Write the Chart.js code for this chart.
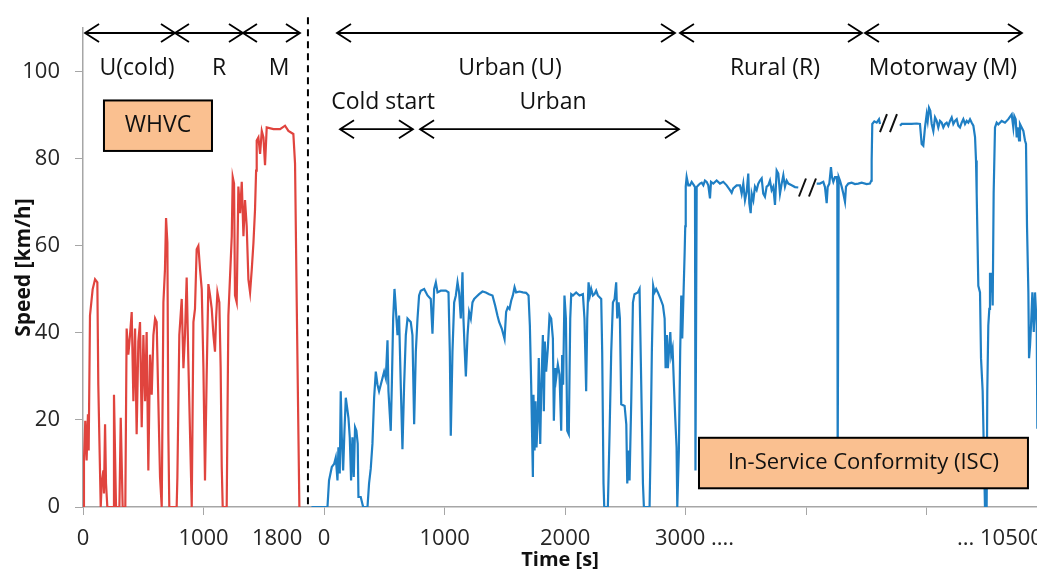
<!DOCTYPE html>
<html>
<head>
<meta charset="utf-8">
<script src="https://cdn.jsdelivr.net/npm/chart.js@4.4.1/dist/chart.umd.min.js"></script>
<style>
  html, body { margin: 0; padding: 0; background: #fff; overflow: hidden; }
  #wrap { width: 1037px; height: 572px; position: relative; }
</style>
</head>
<body>
<div id="wrap"><canvas id="speedChart"></canvas></div>
<script>
// WHVC cycle, time [s] and speed [km/h]
const whvcTime = [
  0, 8, 19, 30, 41, 47, 58, 80, 100, 119,
  127, 147, 155, 169, 174, 183, 191, 202, 252, 257,
  274, 302, 313, 329, 351, 362, 376, 390, 404, 418,
  432, 445, 459, 473, 487, 501, 515, 528, 542, 556,
  570, 584, 598, 611, 625, 639, 653, 667, 680, 689,
  700, 708, 716, 777, 783, 799, 819, 833, 846, 860,
  874, 888, 902, 916, 929, 943, 957, 971, 985, 999,
  1012, 1026, 1040, 1054, 1068, 1082, 1095, 1104, 1115, 1131,
  1142, 1151, 1159, 1192, 1206, 1220, 1234, 1242, 1253, 1261,
  1275, 1289, 1303, 1317, 1331, 1344, 1358, 1372, 1386, 1400,
  1414, 1427, 1436, 1441, 1455, 1469, 1483, 1497, 1510, 1524,
  1580, 1635, 1676, 1704, 1745, 1759, 1773, 1787, 1795
];
const whvcSpeed = [
  0, 10.7, 19.8, 10.7, 21.3, 13, 44, 50, 52.3, 51.6,
  28, 0, 5.4, 8.4, 3.1, 19, 5.4, 0, 0, 25.8,
  0, 0, 20.5, 0, 0, 41, 35, 39.5, 44.8, 24.3,
  41, 16.7, 38, 42.5, 18.3, 39.5, 24.3, 40.2, 8.4, 35,
  25.8, 39.5, 43.3, 42.5, 24.3, 6.9, 0, 47, 54.6, 66.4,
  60.7, 16.7, 0, 0, 6.9, 39.5, 47.8, 31.9, 39.5, 52.7,
  33.4, 16.7, 0, 42.5, 45.5, 59.2, 60, 54.6, 50, 31.9,
  6.1, 30.4, 51.2, 48.6, 45.5, 39.5, 35.7, 43.3, 49.3, 47,
  31.9, 9.2, 0, 0, 44, 53.1, 62.2, 75.8, 74.3, 48.6,
  47, 73.6, 67.5, 74.7, 62.2, 70.5, 64.5, 52.3, 49.3, 54.6,
  60.7, 68.3, 77.3, 84.2, 84.9, 81.1, 86.4, 84.9, 78.5, 87.2,
  86.8, 86.8, 87.6, 86.4, 85.7, 78.9, 47, 16.7, 0
];

// ISC trip, urban part (0 - 3000 s)
const urbanTime = [
  -105, 28, 41, 64, 83, 97, 111, 119, 130, 138,
  147, 158, 169, 180, 191, 202, 213, 224, 235, 246,
  257, 268, 279, 285, 304, 324, 360, 373, 387, 401,
  415, 429, 443, 456, 470, 484, 498, 512, 526, 534,
  545, 553, 562, 573, 584, 592, 600, 609, 622, 636,
  650, 664, 678, 692, 705, 719, 733, 747, 761, 775,
  788, 802, 830, 858, 885, 899, 913, 927, 941, 968,
  1010, 1032, 1043, 1051, 1065, 1079, 1093, 1107, 1120, 1134,
  1148, 1156, 1167, 1176, 1190, 1203, 1217, 1231, 1245, 1259,
  1286, 1314, 1342, 1369, 1397, 1419, 1438, 1452, 1474, 1497,
  1510, 1524, 1538, 1552, 1566, 1580, 1593, 1621, 1649, 1676,
  1696, 1707, 1718, 1726, 1732, 1737, 1746, 1754, 1762, 1773,
  1781, 1793, 1801, 1815, 1823, 1831, 1842, 1856, 1870, 1884,
  1898, 1906, 1917, 1925, 1939, 1953, 1967, 1975, 1983, 1994,
  2006, 2017, 2030, 2042, 2050, 2064, 2091, 2119, 2147, 2160,
  2174, 2183, 2194, 2205, 2216, 2230, 2243, 2257, 2271, 2299,
  2307, 2318, 2324, 2354, 2368, 2382, 2396, 2410, 2423, 2432,
  2443, 2454, 2465, 2493, 2507, 2515, 2526, 2534, 2548, 2562,
  2575, 2603, 2617, 2631, 2645, 2653, 2700, 2708, 2719, 2730,
  2741, 2755, 2769, 2791, 2811, 2825, 2833, 2844, 2852, 2861,
  2872, 2880, 2891, 2902, 2913, 2924, 2930, 2935, 2943, 2954,
  2963, 2971, 2982, 2991, 2996, 3000
];
const urbanSpeed = [
  0, 0, 6.1, 9.2, 9.9, 11.4, 6.1, 13.7, 7.7, 26.6,
  16, 8.4, 17.5, 25.1, 22.8, 20.5, 16, 6.1, 16, 6.9,
  18.3, 17.5, 14.5, 2.3, 2.3, 0, 0, 5.4, 8.8, 14.5,
  25.1, 31.1, 28.1, 26.6, 28.1, 29.6, 31.1, 29.6, 38.3, 26.6,
  21.3, 17.5, 28.1, 43.3, 50.1, 47, 43.3, 39.5, 44, 28.1,
  13.3, 28.1, 39.5, 43.3, 42.9, 42.5, 39.5, 19, 35.7, 43.3,
  48.6, 49.7, 50.1, 48.6, 47.8, 39.8, 50.1, 51.6, 49.3, 49.7,
  49.7, 49.3, 35.7, 16.4, 35.7, 47, 48.6, 51.6, 49.3, 43.3,
  53.9, 43.3, 35.7, 30, 39.5, 44.8, 43.3, 47, 47.8, 48.2,
  48.9, 49.5, 49.3, 48.9, 48.6, 46.3, 44, 42.5, 41, 38.6,
  44.8, 45.9, 45.5, 47.4, 48.6, 50.5, 49.3, 49.5, 49.3, 49.2,
  48.6, 41.7, 28.1, 16, 6.9, 25.8, 13, 24.3, 13.7, 20.5,
  34.2, 14.5, 26.6, 39.5, 22, 38, 31.1, 36.4, 44, 43.3,
  38.7, 19.8, 31.9, 29.6, 32.7, 30.4, 17.5, 34.9, 28.1, 48.6,
  43.3, 17.5, 16.7, 43.3, 48.9, 48.6, 49.3, 48.6, 48.9, 43.3,
  26.6, 43.3, 51.6, 48.6, 50.1, 48.6, 48.9, 49.7, 48.6, 47.8,
  35.7, 5.4, 0, 0, 16.7, 35.7, 47, 47.8, 51.6, 43.3,
  47, 43.3, 23.6, 23.2, 19, 5.4, 13, 6.1, 24.3, 47,
  48.9, 49.3, 50.1, 28.1, 5.4, 0, 0, 13, 35.7, 50.8,
  49.3, 50.1, 49.3, 47.8, 46.3, 43.3, 31.9, 39.5, 31.9, 35.7,
  40.2, 34.9, 36.4, 28.1, 20.5, 13.7, 0, 0, 13, 35.7,
  48.6, 38.7, 49.3, 58.4, 64.5, 73.6
];

// ISC trip, rural part (null = break "//")
const ruralTime = [
  3019, 3053, 3088, 3123, 3171, 3192, 3202, 3227, 3261, 3296,
  3331, 3365, 3399, 3434, 3468, 3503, 3524, 3572, 3641, 3710,
  3779, 3849, 3918, 3953, 3986, 4056, 4125, 4160, 4194, 4229,
  4264, 4297, 4318, 4347, 4368, 4402, 4436, 4471, 4505, 4540,
  4575, 4608, 4643, 4678, 4712, 4747, 4782, 4816, 4851, 4886,
  4920, 4955, 4990, 5024, 5058, 5093, 5128, 5197, 5266, 5334,
  5535, 5716, 5784, 5853, 5888, 5923, 5944, 5978, 6012, 6033,
  6061, 6095, 6131, 6144, 6151, 6172, 6199, 6234, 6268, 6303,
  6324, 6372, 6442, 6510, 6579, 6649, 6753, 6821, 6848
];
const ruralSpeed = [
  75.8, 73.9, 73.9, 74.7, 73.9, 73.5, 8.4, 73.5, 73.9, 74.3,
  74.5, 73.9, 75, 74.7, 73.9, 70.9, 74.7, 74.3, 75, 74.3,
  74.7, 73.9, 72.8, 72.2, 73.2, 73.9, 73.9, 72, 74.3, 70.5,
  72.4, 76.6, 69.8, 67.5, 72, 70.5, 73.6, 72.8, 74.3, 75,
  75.5, 72, 71.3, 73.6, 73.9, 75, 72.8, 73.6, 69.4, 77.3,
  76.6, 72, 74.3, 76.2, 73.6, 75, 74.3, 73.9, 73.5, 73.4,
  null, 74.3, 74.3, 74.7, 73.5, 69.8, 73.5, 74.3, 78.1, 75.8,
  74.7, 75.8, 75.8, 74.3, 10, 75.8, 75, 73.6, 72, 70.1,
  73.6, 74.3, 74.5, 74.2, 74.3, 74.5, 74.2, 74.3, 75
];

// ISC trip, motorway part
const motorwayTime = [
  6856, 6869, 6911, 6960, 7008, 7029, 7215, 7444, 7479, 7547,
  7616, 7686, 7790, 7858, 7893, 7927, 7962, 7997, 8018, 8045,
  8072, 8101, 8135, 8170, 8205, 8238, 8273, 8308, 8342, 8377,
  8412, 8446, 8481, 8516, 8550, 8585, 8620, 8653, 8688, 8723,
  8757, 8792, 8827, 8861, 8896, 8931, 8965, 9000, 9020, 9034,
  9068, 9103, 9124, 9158, 9192, 9206, 9241, 9254, 9275, 9296,
  9310, 9331, 9345, 9366, 9386, 9414, 9449, 9483, 9552, 9621,
  9690, 9760, 9794, 9815, 9843, 9864, 9884, 9912, 9932, 9967,
  10002, 10036, 10057, 10078, 10106, 10120, 10141, 10161, 10189, 10218,
  10244, 10279, 10292
];
const motorwaySpeed = [
  79.6, 88, 88.6, 88.3, 89.1, 88, null, 87.6, 88, 88,
  88, 88, 88.1, 88, 83.4, 83, 87.2, 90.2, 88.7, 91.7,
  91, 88, 86.4, 89.5, 88.7, 87.2, 88.7, 88.3, 87.2, 88,
  88.3, 87.6, 88.7, 89.5, 88, 88.7, 89.1, 87.6, 87.2, 88.3,
  89.1, 88, 88.7, 88.3, 89.1, 88.3, 87.6, 85, 79.6, 72,
  50.8, 49.3, 34.2, 26.6, 7.7, 0, 0, 26.6, 41.7, 45.5,
  53.8, 49.3, 53.8, 46.3, 72, 87.2, 88.3, 87.9, 88.7, 88.3,
  89.1, 90.2, 87.2, 89.8, 89.1, 84.9, 87.2, 84.2, 88, 87.2,
  86.4, 84.2, 83.4, 64.5, 49.3, 34.2, 37.2, 41.7, 49.3, 40.2,
  49.3, 41.7, 18
];

const xTickValues = [0, 1000, 2000, 3000, 4000, 5000, 6000, 7000];
const yTickValues = [0, 20, 40, 60, 80, 100];
const xTickLabels = ['0', '1000', '1800', '0', '1000', '2000', '3000 ....', '... 10500'];
const xTickLabelAt = [0, 1000, 1610, 2000, 3000, 4000, 4745, 7250];

// shared x axis: WHVC in s, then ISC shifted by 2000, compressed after 3000 s
function iscPos(t) {
  return t <= 3000 ? 2000 + t : 5000 + (t - 3000) * 0.4;
}

const iscTime = [...urbanTime, ...ruralTime, ...motorwayTime];
const iscSpeed = [...urbanSpeed, ...ruralSpeed, ...motorwaySpeed];

const FONT = '"Open Sans", "Noto Sans", sans-serif';
const AXIS_GREY = '#a6a6a6';

function arrow(ctx, x1, x2, yy) {
  const h = 14, w = 9;
  ctx.beginPath();
  ctx.moveTo(x1, yy); ctx.lineTo(x2, yy);
  ctx.moveTo(x1 + h, yy - w); ctx.lineTo(x1, yy); ctx.lineTo(x1 + h, yy + w);
  ctx.moveTo(x2 - h, yy - w); ctx.lineTo(x2, yy); ctx.lineTo(x2 - h, yy + w);
  ctx.stroke();
}

function box(ctx, x1, y1, x2, y2, text, size) {
  ctx.fillStyle = '#fac090';
  ctx.fillRect(x1, y1, x2 - x1, y2 - y1);
  ctx.lineWidth = 2;
  ctx.strokeStyle = '#000';
  ctx.strokeRect(x1, y1, x2 - x1, y2 - y1);
  ctx.fillStyle = '#111';
  ctx.font = size + 'px ' + FONT;
  ctx.textAlign = 'center';
  ctx.fillText(text, (x1 + x2) / 2, (y1 + y2) / 2);
}

const annotate = {
  id: 'annotate',
  afterDatasetsDraw(chart) {
    const { ctx, scales: { x, y } } = chart;
    const px = v => x.getPixelForValue(v);
    const py = v => y.getPixelForValue(v);
    ctx.save();
    ctx.textBaseline = 'middle';

    // x tick labels
    ctx.font = '22px ' + FONT;
    ctx.fillStyle = '#262626';
    xTickLabels.forEach((lab, i) => {
      ctx.textAlign = lab.indexOf('..') >= 0 ? 'left' : 'center';
      ctx.fillText(lab, px(xTickLabelAt[i]), 539);
    });

    // separator
    ctx.strokeStyle = '#000';
    ctx.lineWidth = 2;
    ctx.setLineDash([7, 5]);
    ctx.beginPath();
    ctx.moveTo(px(1866), py(112.5));
    ctx.lineTo(px(1866), py(0));
    ctx.stroke();
    ctx.setLineDash([]);

    // phase arrows
    ctx.lineWidth = 1.8;
    [[17, 763], [763, 1327], [1327, 1800], [2107, 4911], [4952, 6462], [6487, 7789]]
      .forEach(a => arrow(ctx, px(a[0]), px(a[1]), py(108.9)));
    [[2132, 2737], [2796, 4944]].forEach(a => arrow(ctx, px(a[0]), px(a[1]), py(86.8)));

    ctx.fillStyle = '#111';
    ctx.font = '23px ' + FONT;
    ctx.textAlign = 'center';
    [['U(cold)', 448], ['R', 1128], ['M', 1626], ['Urban (U)', 3542], ['Rural (R)', 5740], ['Motorway (M)', 7134]]
      .forEach(l => ctx.fillText(l[0], px(l[1]), py(100.7)));
    [['Cold start', 2489], ['Urban', 3899]].forEach(l => ctx.fillText(l[0], px(l[1]), py(93)));

    // break marks
    ctx.strokeStyle = '#111';
    ctx.lineWidth = 2;
    [[5535, 73.4], [7215, 88.2]].forEach(b => {
      const cx = px(iscPos(b[0])), cy = py(b[1]);
      ctx.beginPath();
      ctx.moveTo(cx - 9, cy + 9); ctx.lineTo(cx - 2, cy - 9);
      ctx.moveTo(cx + 1, cy + 9); ctx.lineTo(cx + 8, cy - 9);
      ctx.stroke();
    });

    box(ctx, px(174), py(93.4), px(1070), py(81.8), 'WHVC', 23);
    box(ctx, px(5110), py(15.9), px(7839), py(4.3), 'In-Service Conformity (ISC)', 22);
    ctx.restore();
  }
};

new Chart(document.getElementById('speedChart').getContext('2d'), {
  type: 'line',
  data: {
    datasets: [{
      label: 'WHVC',
      data: whvcTime.map((t, i) => ({ x: t, y: whvcSpeed[i] })),
      borderColor: '#e0443e',
      borderWidth: 2.2,
      pointRadius: 0,
      tension: 0
    }, {
      label: 'ISC',
      data: iscTime.map((t, i) => ({ x: iscPos(t), y: iscSpeed[i] })),
      borderColor: '#1f7fc4',
      borderWidth: 2.2,
      pointRadius: 0,
      tension: 0,
      spanGaps: false
    }]
  },
  options: {
    animation: false,
    responsive: true,
    maintainAspectRatio: false,
    layout: { padding: { top: 23, right: 0, bottom: 0, left: 0 } },
    plugins: { legend: { display: false }, tooltip: { enabled: false } },
    scales: {
      x: {
        type: 'linear',
        min: 0,
        max: 7914,
        afterBuildTicks: s => { s.ticks = xTickValues.map(v => ({ value: v })); },
        afterFit: s => { s.height = 65; },
        ticks: { display: false },
        grid: { drawOnChartArea: false, color: AXIS_GREY, tickLength: 8 },
        border: { color: AXIS_GREY, width: 1.5 },
        title: {
          display: true, text: 'Time [s]', color: '#111',
          font: { family: FONT, size: 20, weight: 'bold' },
          padding: { top: 0, bottom: 0 }
        }
      },
      y: {
        min: 0,
        max: 110,
        afterBuildTicks: s => { s.ticks = yTickValues.map(v => ({ value: v })); },
        afterFit: s => { s.width = 83; },
        ticks: { padding: 15, color: '#262626', font: { family: FONT, size: 22 } },
        grid: { drawOnChartArea: false, color: AXIS_GREY, tickLength: 8 },
        border: { color: AXIS_GREY, width: 1.5 },
        title: {
          display: true, text: 'Speed [km/h]', color: '#111',
          font: { family: FONT, size: 21, weight: 'bold' },
          padding: { top: 11, bottom: 0 }
        }
      }
    }
  },
  plugins: [annotate]
});
</script>
</body>
</html>
